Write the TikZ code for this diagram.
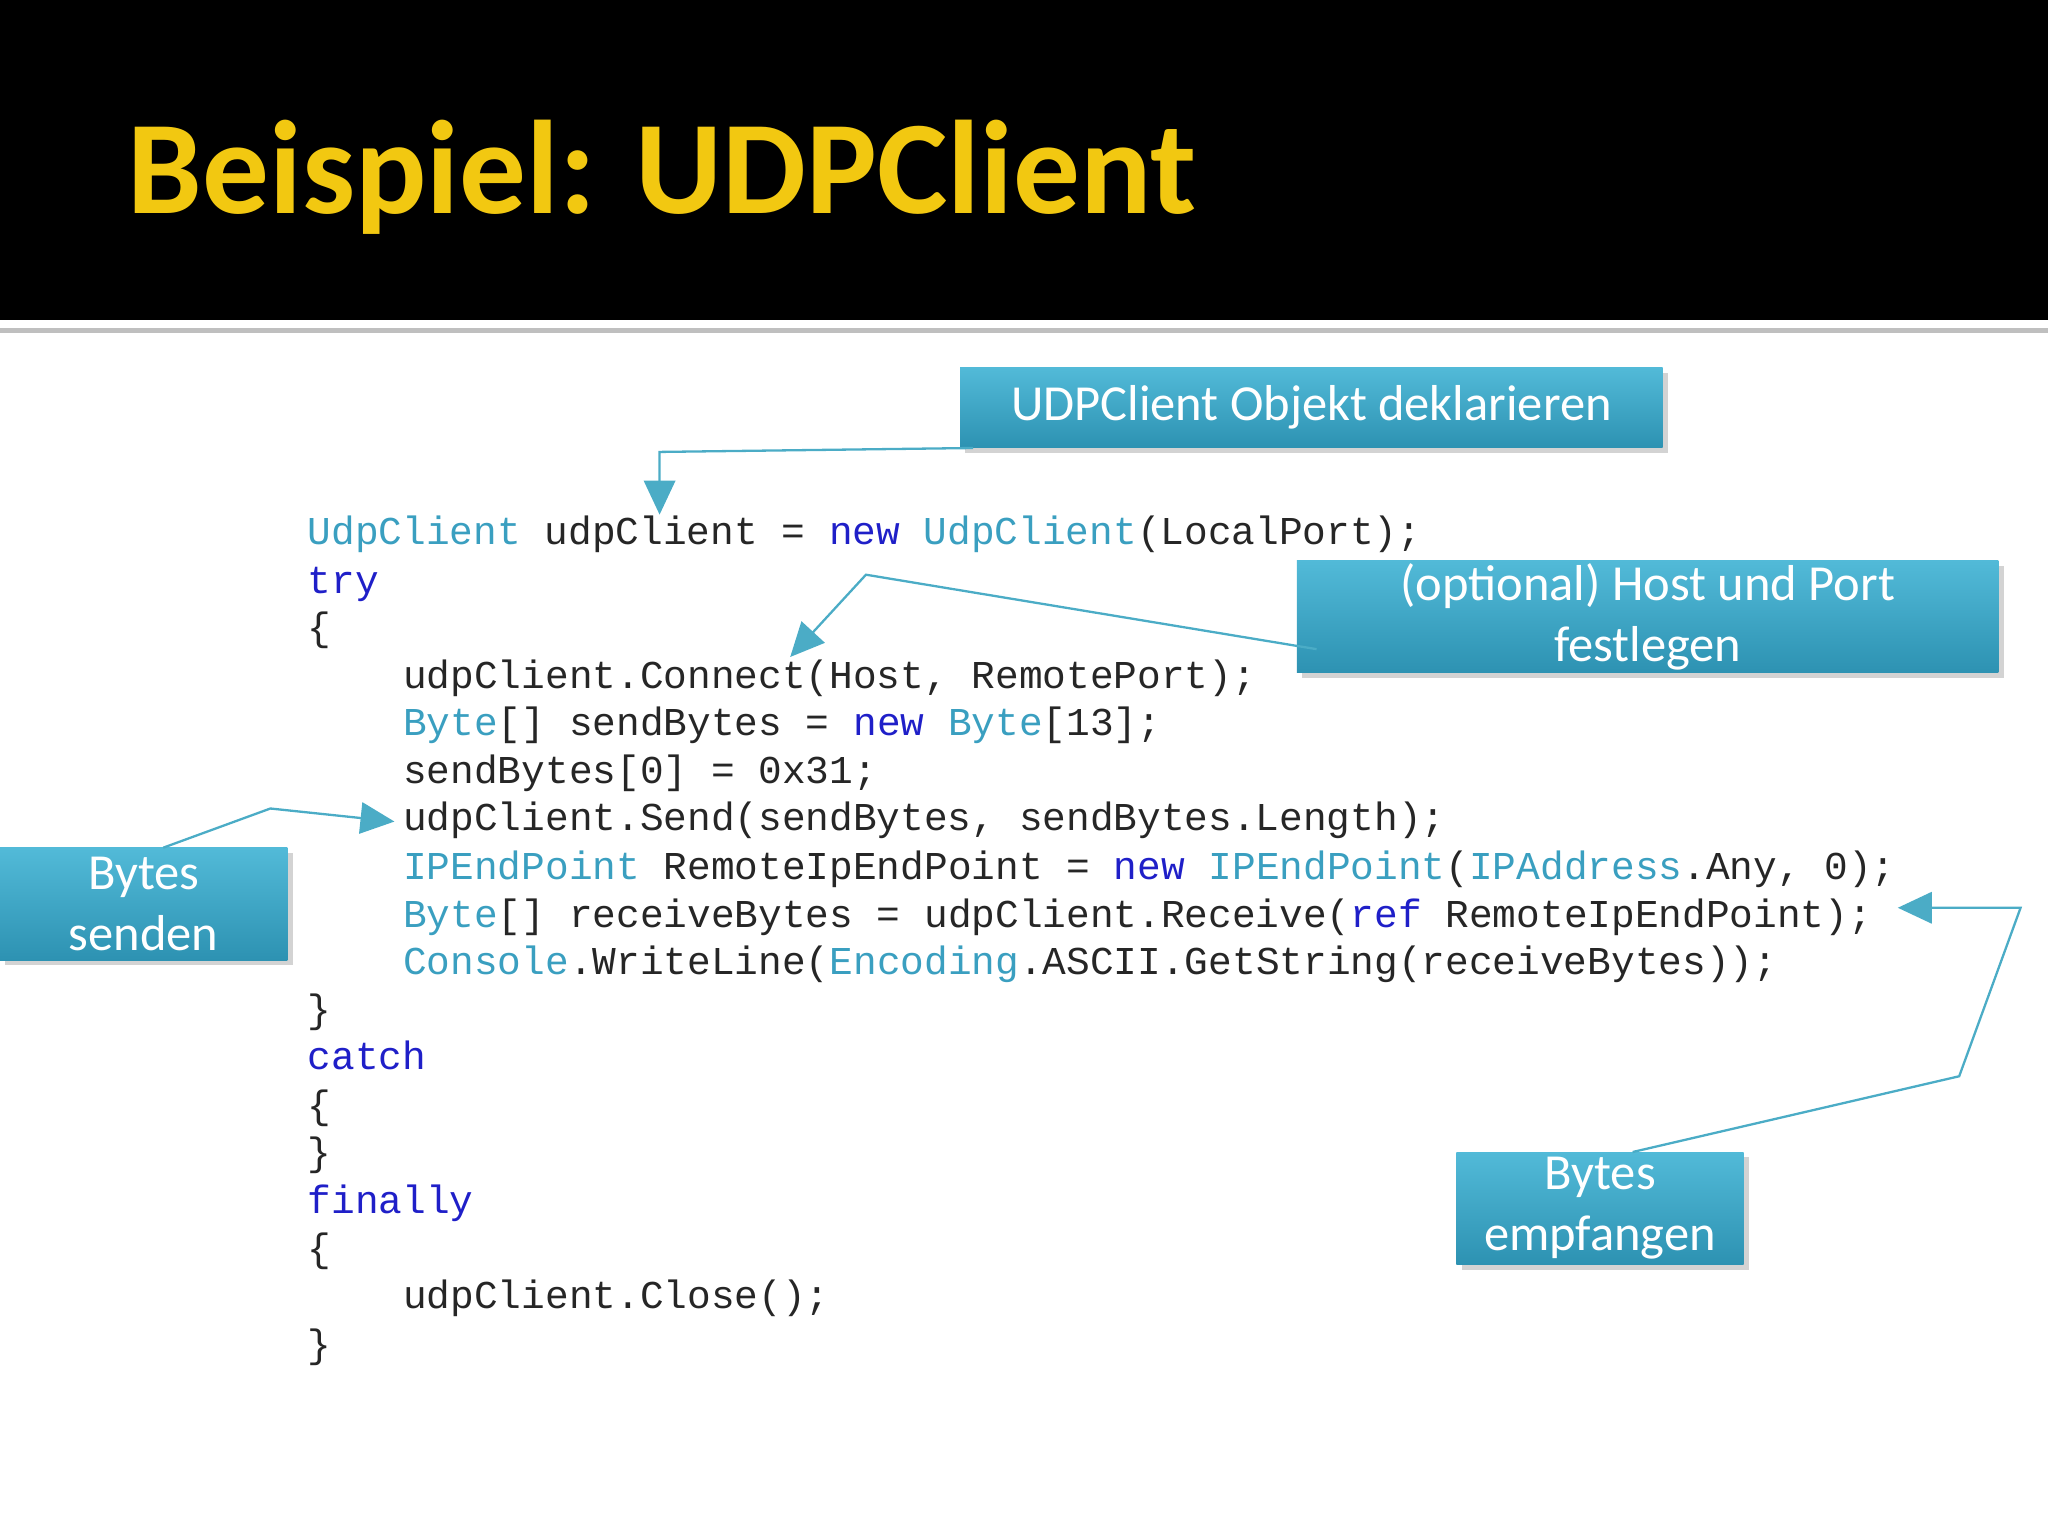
\documentclass[tikz,border=0pt]{standalone}
\usepackage{fontspec}
\setmainfont{Carlito}
\newfontfamily\codefont{Liberation Mono}
\usetikzlibrary{shadows,arrows.meta}
\definecolor{kwc}{HTML}{1F1FC8}
\definecolor{tyc}{HTML}{3A9FC0}
\definecolor{boxtop}{HTML}{52BAD8}
\definecolor{boxbot}{HTML}{2D92B2}
\definecolor{linec}{HTML}{4BACC6}
\definecolor{titlec}{HTML}{F2C811}
\newcommand{\kwd}[1]{\textcolor{kwc}{#1}}
\newcommand{\typ}[1]{\textcolor{tyc}{#1}}
\begin{document}
\begin{tikzpicture}[x=0.1mm,y=-0.1mm,
  lbox/.style={top color=boxtop,bottom color=boxbot,draw=none,text=white,font=\fontsize{11}{13.3}\selectfont,align=center,inner sep=0pt,drop shadow={shadow xshift=0.4mm,shadow yshift=-0.4mm,opacity=0.35}},
  conn/.style={draw=linec,line width=0.5pt},
  tip/.style={-{Triangle[length=2.6mm,width=2.4mm]}},
  code/.style={anchor=west,inner sep=0pt,font=\codefont\fontsize{8.6}{10}\selectfont,text=black!85}]
\useasboundingbox (0,0) rectangle (1568,1176);
\fill[black] (0,0) rectangle (1568,245);
\fill[gray!50] (0,251) rectangle (1568,255);
\node[anchor=west,text=titlec,font=\bfseries\fontsize{29}{34}\selectfont,inner sep=0pt] (title) at (97,136) {Beispiel: UDPClient};
% boxes
\node[lbox,minimum width=53.8mm,minimum height=6.1mm] (A) at (1004,312) {UDPClient Objekt deklarieren};
\node[lbox,minimum width=53.7mm,minimum height=8.6mm] (B) at (1261.5,472) {(optional) Host und Port\\festlegen};
\node[lbox,minimum width=22mm,minimum height=8.6mm] (C) at (110,692) {Bytes\\senden};
\node[lbox,minimum width=22mm,minimum height=8.6mm] (D) at (1225,925) {Bytes\\empfangen};
% code
\foreach \y/\x/\t in {
410/235/{\typ{UdpClient} udpClient = \kwd{new} \typ{UdpClient}(LocalPort);},
447/235/{\kwd{try}},
483/235/{\{},
520/308/{udpClient.Connect(Host, RemotePort);},
556/308/{\typ{Byte}[] sendBytes = \kwd{new} \typ{Byte}[13];},
593/308/{sendBytes[0] = 0x31;},
629/308/{udpClient.Send(sendBytes, sendBytes.Length);},
666/308/{\typ{IPEndPoint} RemoteIpEndPoint = \kwd{new} \typ{IPEndPoint}(\typ{IPAddress}.Any, 0);},
703/308/{\typ{Byte}[] receiveBytes = udpClient.Receive(\kwd{ref} RemoteIpEndPoint);},
739/308/{\typ{Console}.WriteLine(\typ{Encoding}.ASCII.GetString(receiveBytes));},
776/235/{\}},
812/235/{\kwd{catch}},
849/235/{\{},
885/235/{\}},
922/235/{\kwd{finally}},
959/235/{\{},
995/308/{udpClient.Close();},
1032/235/{\}}}
  \node[code] at (\x,\y) {\strut\t};
% connectors
\coordinate (a1) at (745,343); \coordinate (a2) at (505,346); \coordinate (a3) at (505,394);
\draw[conn,tip] (a1) -- (a2) -- (a3);
\coordinate (b1) at (1008,497); \coordinate (b2) at (663,440); \coordinate (b3) at (605,503);
\draw[conn,tip] (b1) -- (b2) -- (b3);
\coordinate (c1) at (125,649); \coordinate (c2) at (207,619); \coordinate (c3) at (302,629);
\draw[conn,tip] (c1) -- (c2) -- (c3);
\coordinate (d1) at (1250,882); \coordinate (d2) at (1500,824); \coordinate (d3) at (1547,695); \coordinate (d4) at (1453,695);
\draw[conn,tip] (d1) -- (d2) -- (d3) -- (d4);
\end{tikzpicture}
\end{document}
